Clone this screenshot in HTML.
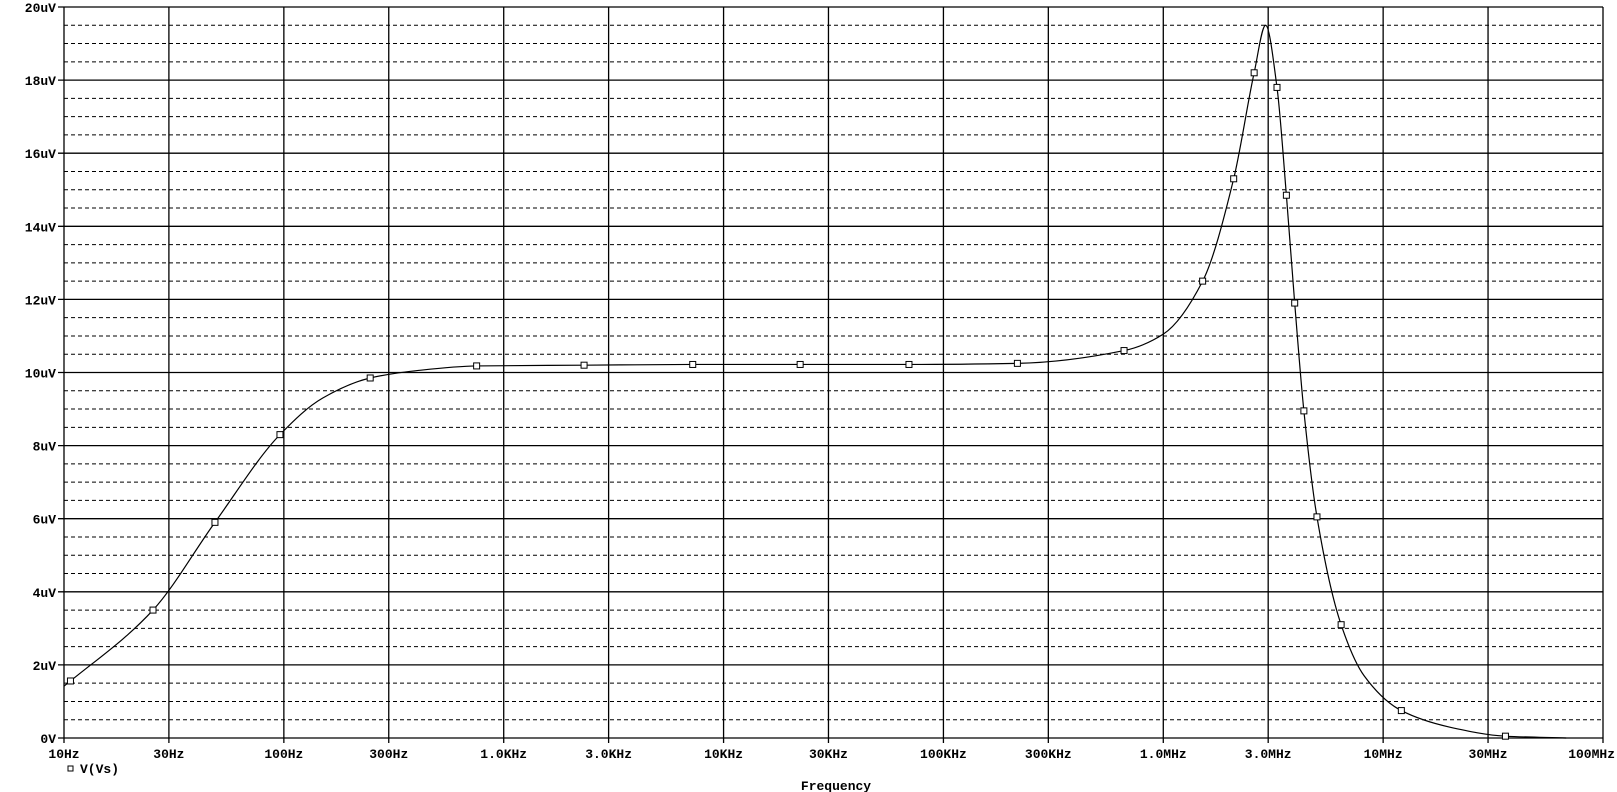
<!DOCTYPE html>
<html><head><meta charset="utf-8"><style>
html,body{margin:0;padding:0;background:#fff;}
svg{display:block;}
text{font-family:"Liberation Mono","DejaVu Sans Mono",monospace;font-weight:bold;font-size:13px;fill:#000;}
</style></head><body>
<svg id="chart" width="1617" height="792"></svg>
<script>
const curveFreq=[10,10.7,25.4,48.6,96,150,247,400,753,2320,7240,22300,69700,217000,663000,1000000,1510000,2090000,2590000,2920000,3290000,3630000,3960000,4360000,5000000,6440000,8200000,12100000,20000000,36000000,68000000];
const curveVal=[1.42,1.56,3.5,5.9,8.3,9.3,9.85,10.05,10.18,10.2,10.22,10.22,10.22,10.25,10.6,11.05,12.5,15.3,18.2,19.5,17.8,14.85,11.9,8.95,6.05,3.1,1.7,0.75,0.3,0.05,0.0];
const markerFreq=[10.7,25.4,48.6,96,247,753,2320,7240,22300,69700,217000,663000,1510000,2090000,2590000,3290000,3630000,3960000,4360000,5000000,6440000,12100000,36000000];
const markerVal=[1.56,3.5,5.9,8.3,9.85,10.18,10.2,10.22,10.22,10.22,10.25,10.6,12.5,15.3,18.2,17.8,14.85,11.9,8.95,6.05,3.1,0.75,0.05];
const yTicks=[0,2,4,6,8,10,12,14,16,18,20];
const yTickLabels=["0V","2uV","4uV","6uV","8uV","10uV","12uV","14uV","16uV","18uV","20uV"];
const xTicks=[10,30,100,300,1e3,3e3,1e4,3e4,1e5,3e5,1e6,3e6,1e7,3e7,1e8];
const xTickLabels=["10Hz","30Hz","100Hz","300Hz","1.0KHz","3.0KHz","10KHz","30KHz","100KHz","300KHz","1.0MHz","3.0MHz","10MHz","30MHz","100MHz"];

const L=64,R=1603,T=7,B=738;
const NS="http://www.w3.org/2000/svg";
const svg=document.getElementById('chart');
function X(f){return L+(Math.log10(f)-1)/7*(R-L);}
function Y(v){return B-v/20*(B-T);}
function mk(tag,attrs){const e=document.createElementNS(NS,tag);for(const k in attrs)e.setAttribute(k,attrs[k]);svg.appendChild(e);return e;}

for(let v=0.5;v<20;v+=0.5){
  if(Math.abs(v-Math.round(v/2)*2)<1e-6)continue;
  const l=mk('line',{x1:L,x2:R,y1:Y(v),y2:Y(v),stroke:'#000','stroke-width':1,'stroke-dasharray':'4,3'});
  
  
}
yTicks.forEach((v,i)=>{
  const l=mk('line',{x1:L-6,x2:R,y1:Y(v),y2:Y(v),stroke:'#000','stroke-width':1.3});
  
  
  const t=mk('text',{x:L-8,y:Y(v)+5,'text-anchor':'end'});
  t.textContent=yTickLabels[i];
  
  
});
xTicks.forEach((f,i)=>{
  const l=mk('line',{x1:X(f),x2:X(f),y1:T,y2:B+5,stroke:'#000','stroke-width':1.3});
  
  
  const last=i===xTicks.length-1;
  const t=mk('text',{x:last?X(f)+12:X(f),y:B+20,'text-anchor':last?'end':'middle'});
  t.textContent=xTickLabels[i];
  
  
});
// monotone cubic (Fritsch-Carlson) interpolation in pixel space
const xs=curveFreq.map(X), ys=curveVal.map(Y);
const n=xs.length, dl=[], m=[];
for(let i=0;i<n-1;i++)dl.push((ys[i+1]-ys[i])/(xs[i+1]-xs[i]));
m[0]=dl[0];m[n-1]=dl[n-2];
for(let i=1;i<n-1;i++){
  if(dl[i-1]*dl[i]<=0)m[i]=0;
  else{const h0=xs[i]-xs[i-1],h1=xs[i+1]-xs[i];const w1=2*h1+h0,w2=h1+2*h0;m[i]=(w1+w2)/(w1/dl[i-1]+w2/dl[i]);}
}
let d='M'+xs[0]+','+ys[0];
for(let i=0;i<n-1;i++){
  const h=(xs[i+1]-xs[i])/3;
  d+=` C${xs[i]+h},${ys[i]+m[i]*h} ${xs[i+1]-h},${ys[i+1]-m[i+1]*h} ${xs[i+1]},${ys[i+1]}`;
}
const path=mk('path',{d:d,fill:'none',stroke:'#000','stroke-width':1.2});


markerFreq.forEach((f,i)=>{
  const r=mk('rect',{x:X(f)-3,y:Y(markerVal[i])-3,width:6,height:6,fill:'#fff',stroke:'#000','stroke-width':1});
  
  
});
const lr=mk('rect',{x:68,y:766,width:5,height:5,fill:'#fff',stroke:'#000','stroke-width':1});


const lt=mk('text',{x:80,y:773});
lt.textContent='V(Vs)';


const xt=mk('text',{x:836,y:790,'text-anchor':'middle'});
xt.textContent='Frequency';


</script>
</body></html>
